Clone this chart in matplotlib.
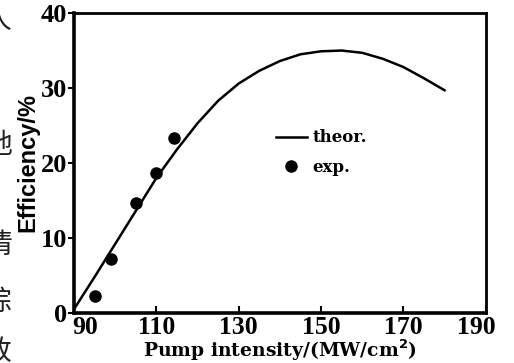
import matplotlib
matplotlib.use("Agg")
import matplotlib.pyplot as plt
import matplotlib.transforms as mtransforms

# theoretical curve
theor_x = [90, 95, 100, 105, 110, 115, 120, 125, 130, 135, 140, 145, 150, 155, 160, 165, 170, 175, 180]
theor_y = [0.5, 4.8, 9.2, 13.6, 18.0, 21.8, 25.3, 28.3, 30.6, 32.3, 33.6, 34.5, 34.9, 35.0, 34.7, 33.9, 32.8, 31.3, 29.7]
# experimental points
exp_x = [95, 99, 105, 109.8, 114.2]
exp_y = [2.3, 7.2, 14.6, 18.6, 23.4]

xticks = [90, 110, 130, 150, 170, 190]
yticks = [0, 10, 20, 30, 40]
xlabel = "Pump intensity/(MW/cm$^{\\mathbf{2}}$)"
ylabel = "Efficiency/%"
legend_labels = ["theor.", "exp."]
side_chars = ["人", "、", "地", "，", "情", "综", "致"]

fig = plt.figure(figsize=(5.14, 3.63), dpi=100)
ax = fig.add_axes([0.144, 0.138, 0.801, 0.826])

serif = "Liberation Serif"
ax.plot(theor_x, theor_y, color="black", lw=1.8, label=legend_labels[0])
ax.plot(exp_x, exp_y, "o", color="black", ms=8, label=legend_labels[1])

ax.set_xlim(90, 190)
ax.set_ylim(0, 40)
ax.set_xticks(xticks)
ax.set_yticks(yticks)
ax.set_xticklabels([str(t) for t in xticks], fontfamily=serif, fontweight="bold", fontsize=18.5)
ax.set_yticklabels([str(t) for t in yticks], fontfamily=serif, fontweight="bold", fontsize=19)
ax.tick_params(axis="x", direction="in", length=5, width=1.5, pad=2)
ax.tick_params(axis="y", direction="out", length=4, width=1.5, pad=1)

for s in ax.spines.values():
    s.set_linewidth(2.0)
ax.spines["left"].set_linewidth(2.6)
ax.spines["bottom"].set_linewidth(2.6)

# shift first and last x tick labels inward like original
labs = ax.get_xticklabels()
labs[0].set_transform(labs[0].get_transform() + mtransforms.ScaledTranslation(11/100, 0, fig.dpi_scale_trans))
labs[-1].set_transform(labs[-1].get_transform() + mtransforms.ScaledTranslation(-9/100, 0, fig.dpi_scale_trans))

ax.set_xlabel(xlabel, fontfamily="DejaVu Serif", fontweight="bold", fontsize=13.5)
ax.xaxis.set_label_coords(0.5, -0.082)
ax.set_ylabel(ylabel, fontfamily="Liberation Sans", fontweight="bold", fontsize=17, labelpad=1)

leg = ax.legend(loc="upper left", bbox_to_anchor=(0.47, 0.64), frameon=False,
                prop={"family": "DejaVu Serif", "weight": "bold", "size": 12},
                handlelength=1.85, handletextpad=0.35, labelspacing=0.75, borderpad=0)

for i, ch in enumerate(side_chars):
    ypix = [20, 90, 145, 200, 245, 302, 352][i]
    fig.text(-2/514, 1 - ypix/363, ch, ha="center", va="center",
             fontfamily="Noto Sans CJK SC", fontsize=20, color="#222222")

fig.savefig("out.png", dpi=100)
